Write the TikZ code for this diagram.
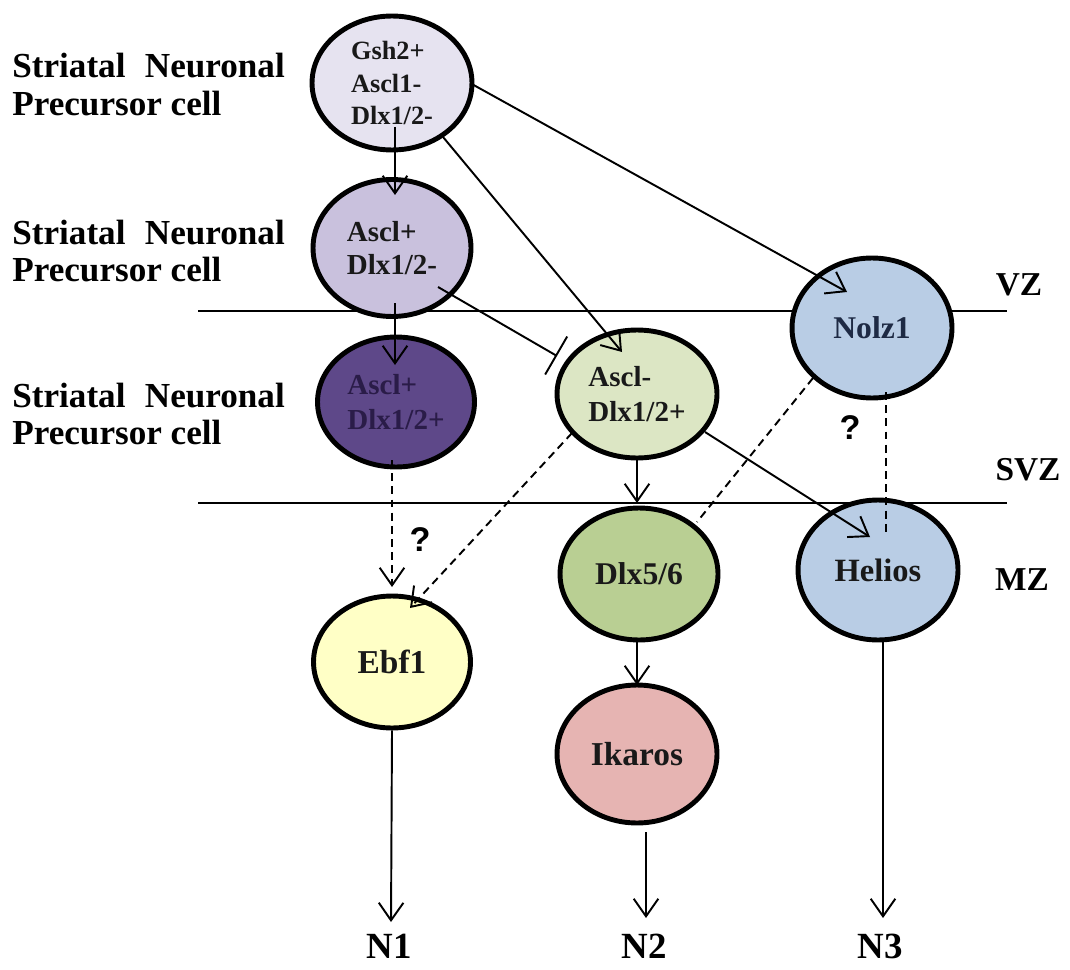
\documentclass[tikz,border=0pt]{standalone}
\usepackage{fontspec}
\setmainfont{Liberation Serif}
\newfontfamily\qfont{Liberation Sans}
\usetikzlibrary{shapes.geometric,arrows.meta,calc}
\definecolor{cG}{HTML}{E6E3F0}
\definecolor{cA}{HTML}{C9C1DD}
\definecolor{cD}{HTML}{5E4889}
\definecolor{cDt}{HTML}{2A1C48}
\definecolor{cB}{HTML}{DCE6C4}
\definecolor{cF}{HTML}{B9CF93}
\definecolor{cN}{HTML}{B9CDE5}
\definecolor{cE}{HTML}{FFFFC6}
\definecolor{cI}{HTML}{E6B4B2}
\definecolor{cNt}{HTML}{1E2A44}
\begin{document}
\begin{tikzpicture}[x=0.02cm,y=-0.02cm,
  cell/.style={ellipse,draw=black,line width=2.8pt,inner sep=0pt,align=left},
  arr/.style={line width=1.1pt,-{Straight Barb[length=10pt,width=14pt,line width=1.1pt]}},
  darr/.style={arr,dash pattern=on 4.5pt off 3pt},
  dline/.style={line width=1.1pt,dash pattern=on 4.5pt off 3pt},
  inhib/.style={line width=1.1pt,-{Bar[width=25pt,line width=1.1pt]}},
  zone/.style={line width=1.4pt},
  side/.style={font=\fontsize{20}{21.6}\selectfont\bfseries,align=left,anchor=west,inner sep=0pt},
  zlab/.style={font=\fontsize{19}{22}\selectfont\bfseries,inner sep=0pt},
  qm/.style={font=\fontsize{19.5}{22}\selectfont\qfont\bfseries,inner sep=0pt},
  nlab/.style={font=\fontsize{21}{23}\selectfont\bfseries,inner sep=0pt}
]
\useasboundingbox (0,0) rectangle (1070,969);

% zone lines
\coordinate (vzL) at (198,311);
\coordinate (vzR) at (1007,311);
\coordinate (svzL) at (198,503);
\coordinate (svzR) at (1007,503);
\draw[zone] (vzL) -- (vzR);
\draw[zone] (svzL) -- (svzR);

% side labels
\node[side] (s1) at (12,85) {Striatal\hspace{0.55em}Neuronal\\Precursor cell};
\node[side] (s2) at (12,251) {Striatal\hspace{0.55em}Neuronal\\Precursor cell};
\node[side] (s3) at (12,414) {Striatal\hspace{0.55em}Neuronal\\Precursor cell};

% zone labels
\node[zlab] (vz) at (1019,285) {VZ};
\node[zlab] (svz) at (1028,470) {SVZ};
\node[zlab] (mz) at (1022,580) {MZ};

% cells
\node[cell,fill=cG,minimum width=3.2cm,minimum height=2.68cm,
      font=\fontsize{15}{19.3}\selectfont\bfseries,text=black!90] (g) at (392,83)
      {Gsh2+\\[-1pt]Ascl1-\\[-1pt]Dlx1/2-};
\node[cell,fill=cA,minimum width=3.16cm,minimum height=2.74cm,
      font=\fontsize{16.5}{18.8}\selectfont\bfseries,text=black!90] (a2) at (392,248)
      {Ascl+\\Dlx1/2-};
\node[cell,fill=cD,minimum width=3.14cm,minimum height=2.6cm,
      font=\fontsize{16.5}{19.5}\selectfont\bfseries,text=cDt] (a3) at (396,402)
      {Ascl+\\Dlx1/2+};
\node[cell,fill=cB,minimum width=3.2cm,minimum height=2.56cm,
      font=\fontsize{16.5}{19.5}\selectfont\bfseries,text=black!90] (b) at (637,394)
      {Ascl-\\Dlx1/2+};
\node[cell,fill=cF,minimum width=3.16cm,minimum height=2.64cm,
      font=\fontsize{18}{20}\selectfont\bfseries,text=black!90] (d56) at (639,574) {Dlx5/6};
\node[cell,fill=cN,minimum width=3.2cm,minimum height=2.8cm,
      font=\fontsize{18}{20}\selectfont\bfseries,text=cNt] (nolz) at (872,328) {Nolz1};
\node[cell,fill=cN,minimum width=3.2cm,minimum height=2.8cm,
      font=\fontsize{18.5}{20}\selectfont\bfseries,text=black!90] (hel) at (878,570) {Helios};
\node[cell,fill=cE,minimum width=3.14cm,minimum height=2.64cm,
      font=\fontsize{19}{20}\selectfont\bfseries,text=black!90] (ebf) at (392,662) {Ebf1};
\node[cell,fill=cI,minimum width=3.2cm,minimum height=2.76cm,
      font=\fontsize{19}{20}\selectfont\bfseries,text=black!90] (ik) at (637,754) {Ikaros};

% outputs
\node[nlab] (n1) at (389,946) {N1};
\node[nlab] (n2) at (644,946) {N2};
\node[nlab] (n3) at (880,946) {N3};

% question marks
\node[qm] (q1) at (420,540) {?};
\node[qm] (q2) at (850,428) {?};

% connectors
\draw[arr] ($(g)+(3,44)$) -- ($(a2)+(3,-53)$);
\draw[arr] ($(g)+(78,0)$) -- ($(nolz)+(-25,-36)$);
\draw[arr] ($(g)+(51,54)$) -- ($(b)+(-15,-42)$);
\draw[inhib] ($(a2)+(46,39)$) -- ($(b)+(-80,-38)$);
\draw[arr] ($(a2)+(3,55)$) -- ($(a3)+(-1,-37)$);
\draw[darr] ($(a3)+(-4,58)$) -- ($(ebf)+(0,-75)$);
\draw[darr] ($(b)+(-65,39)$) -- ($(ebf)+(18,-54)$);
\draw[arr] (b.south) -- ($(d56)+(-2,-71)$);
\draw[arr] ($(b)+(68,38)$) -- ($(hel)+(-8,-33)$);
\draw[dline] ($(nolz)+(-59,50)$) -- ($(d56)+(58,-52)$);
\draw[dline] ($(nolz)+(14,64)$) -- ($(hel)+(8,-35)$);
\draw[arr] ($(d56)+(-2,66)$) -- ($(ik)+(0,-69)$);
\draw[arr] (ebf.south) -- ($(n1)+(2,-24)$);
\draw[arr] ($(ik)+(9,78)$) -- ($(n2)+(2,-28)$);
\draw[arr] ($(hel)+(5,72)$) -- ($(n3)+(3,-28)$);
\end{tikzpicture}
\end{document}
